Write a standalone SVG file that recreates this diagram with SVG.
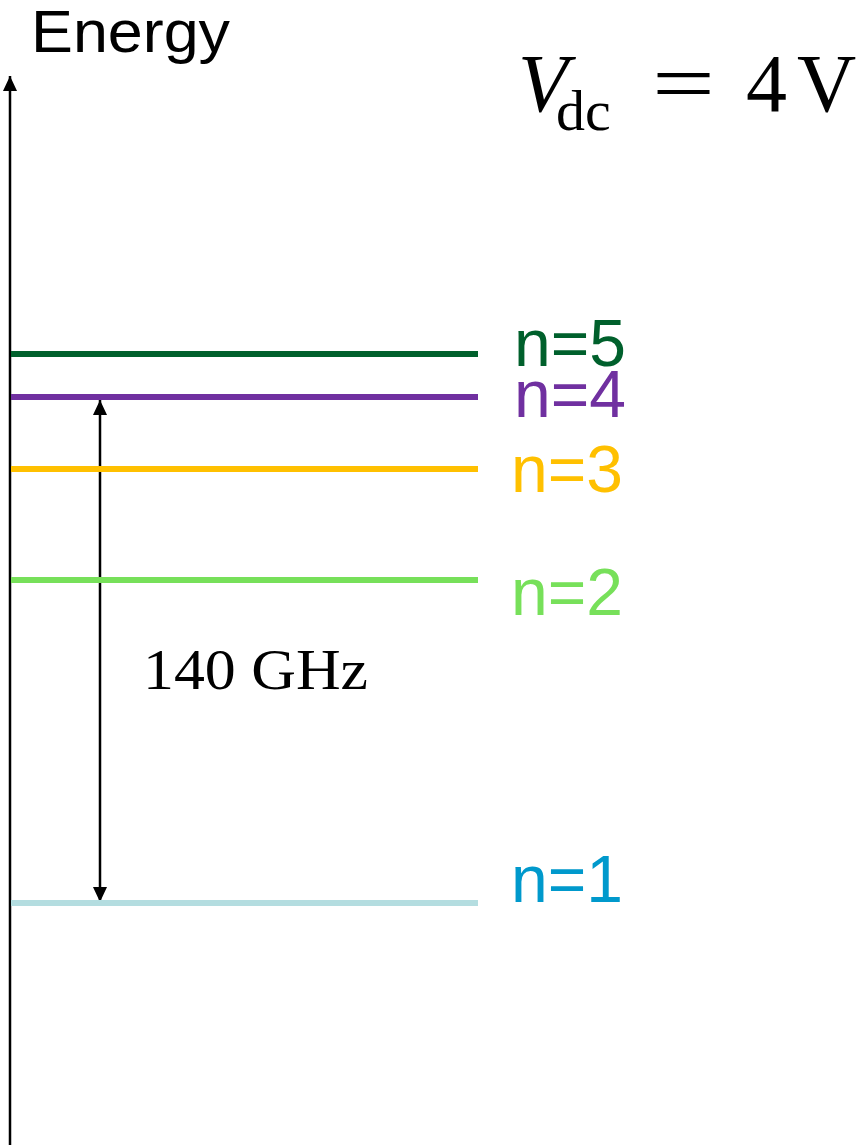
<svg xmlns="http://www.w3.org/2000/svg" width="863" height="1145" viewBox="0 0 863 1145">
<style>
.lvl{stroke-width:6;fill:none}
.sans{font-family:"Liberation Sans",Arial,sans-serif}
.serif{font-family:"Liberation Serif","Times New Roman",serif}
.lab{font-size:66px}
</style>
<defs>
<marker id="ah" viewBox="0 0 15 14" refX="15" refY="7" markerWidth="15" markerHeight="14" markerUnits="userSpaceOnUse" orient="auto-start-reverse">
<path d="M0,0 L15,7 L0,14 Z" fill="#000"/>
</marker>
</defs>
<rect width="863" height="1145" fill="#fff"/>
<g id="connectors">
<line id="axis" x1="10" y1="1145" x2="10" y2="76" stroke="#000" stroke-width="2.5" marker-end="url(#ah)"/>
<line id="gap" x1="100" y1="400" x2="100" y2="902" stroke="#000" stroke-width="2.5" marker-start="url(#ah)" marker-end="url(#ah)"/>
</g>
<g id="n5"><line class="lvl" x1="11" y1="354" x2="478" y2="354" stroke="#00602C"/><text class="sans lab" x="514" y="366" fill="#00602C">n=5</text></g>
<g id="n4"><line class="lvl" x1="11" y1="397" x2="478" y2="397" stroke="#7030A0"/><text class="sans lab" x="514" y="417" fill="#7030A0">n=4</text></g>
<g id="n3"><line class="lvl" x1="11" y1="469" x2="478" y2="469" stroke="#FFC000"/><text class="sans lab" x="511" y="492" fill="#FFC000">n=3</text></g>
<g id="n2"><line class="lvl" x1="11" y1="580" x2="478" y2="580" stroke="#77E05A"/><text class="sans lab" x="511" y="615" fill="#77E05A">n=2</text></g>
<g id="n1"><line class="lvl" x1="11" y1="903" x2="478" y2="903" stroke="#B4DDE0"/><text class="sans lab" x="511" y="902" fill="#0099CC">n=1</text></g>
<g id="energy"><text class="sans" x="31" y="52" font-size="60" textLength="199" lengthAdjust="spacingAndGlyphs">Energy</text></g>
<g id="freq"><text class="serif" x="143" y="689" font-size="58" textLength="225" lengthAdjust="spacingAndGlyphs">140 GHz</text></g>
<g id="vdc" class="serif">
<text y="111" font-size="82"><tspan x="518" font-style="italic">V</tspan><tspan x="556" y="130" font-size="58">dc</tspan></text>
<text x="652" y="111" font-size="82" textLength="63" lengthAdjust="spacingAndGlyphs">=</text>
<text y="111" font-size="82"><tspan x="746">4</tspan><tspan x="797">V</tspan></text>
</g>
</svg>
